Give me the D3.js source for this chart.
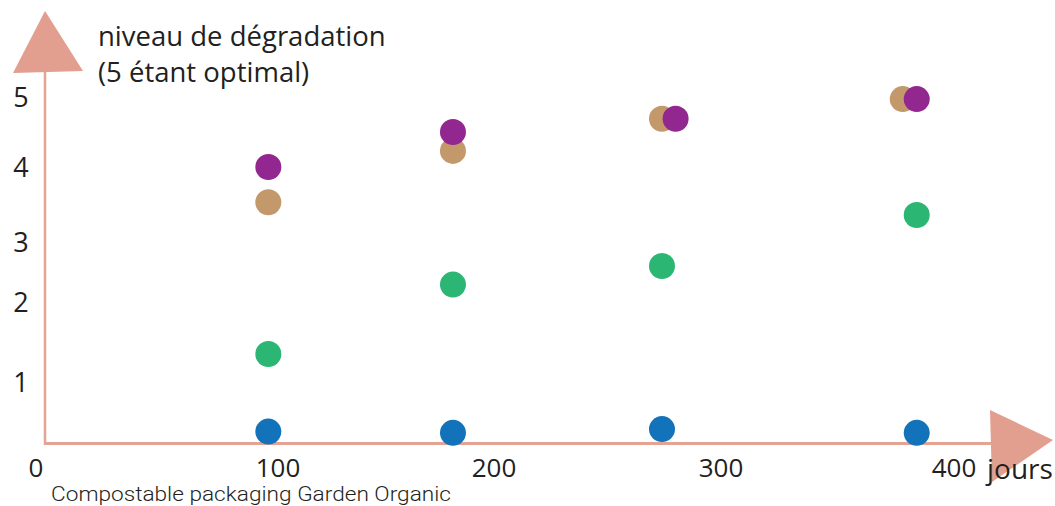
<!DOCTYPE html>
<html>
<head>
<meta charset="utf-8">
<script src="https://cdn.jsdelivr.net/npm/d3@7"></script>
<style>
  html, body { margin: 0; padding: 0; background: #fff; }
  svg { display: block; }
</style>
</head>
<body>
<svg id="chart" width="1055" height="506"></svg>
<script>
// ---- data ----
const xTicks = [0, 100, 200, 300, 400];
const yTicks = [1, 2, 3, 4, 5];
const seriesNames = ["bleu", "vert", "beige", "violet"];
const seriesColors = ["#1273bb", "#2bb673", "#c3996b", "#92278f"];
const daysBleu = [96, 181, 274, 384];
const valBleu = [0.2, 0.18, 0.24, 0.18];
const daysVert = [96, 181, 274, 384];
const valVert = [1.35, 2.29, 2.6, 3.36];
const daysBeige = [96, 181, 274, 378];
const valBeige = [3.53, 4.23, 4.69, 4.97];
const daysViolet = [96, 181, 280, 384];
const valViolet = [4.0, 4.5, 4.69, 4.97];
const yTitle = ["niveau de dégradation", "(5 étant optimal)"];
const xTitle = "jours";
const footer = "Compostable packaging Garden Organic";

const series = [
  {name: seriesNames[0], color: seriesColors[0], x: daysBleu, y: valBleu},
  {name: seriesNames[1], color: seriesColors[1], x: daysVert, y: valVert},
  {name: seriesNames[2], color: seriesColors[2], x: daysBeige, y: valBeige},
  {name: seriesNames[3], color: seriesColors[3], x: daysViolet, y: valViolet}
];

// ---- scales (hand-drawn axis: piecewise linear) ----
const x = d3.scaleLinear().domain([0, 100, 200, 300, 400]).range([36, 278, 494, 721, 954]);
const y = d3.scaleLinear().domain([0, 1, 2, 3, 4, 5]).range([444, 382, 302, 242, 167, 97]);

const svg = d3.select("#chart");
const axisColor = "#e4a393";
const arrowColor = "#e29e8e";
const textColor = "#231f20";
const font = "'Open Sans', sans-serif";

// axes lines
svg.append("line").attr("x1", 45).attr("x2", 45).attr("y1", 70).attr("y2", 445)
  .attr("stroke", axisColor).attr("stroke-width", 2.5);
svg.append("line").attr("x1", 44).attr("x2", 992).attr("y1", 443.5).attr("y2", 443.5)
  .attr("stroke", axisColor).attr("stroke-width", 3);

// arrowheads
svg.append("path").attr("d", "M45,11 L83,71 L13,73 Z").attr("fill", arrowColor);
svg.append("path").attr("d", "M990,410 L1053,440 L992,482 Z").attr("fill", arrowColor);

// dots
series.forEach(s => {
  svg.append("g").selectAll("circle")
    .data(s.x.map((d, i) => ({d: d, v: s.y[i]})))
    .join("circle")
    .attr("cx", p => x(p.d))
    .attr("cy", p => y(p.v))
    .attr("r", 13)
    .attr("fill", s.color);
});

// x tick labels
svg.append("g").selectAll("text").data(xTicks).join("text")
  .attr("x", d => x(d)).attr("y", 477)
  .attr("text-anchor", "middle")
  .attr("font-family", font).attr("font-size", 26).attr("fill", textColor)
  .text(d => d);

// y tick labels
svg.append("g").selectAll("text").data(yTicks).join("text")
  .attr("x", 21).attr("y", d => y(d) + 10)
  .attr("text-anchor", "middle")
  .attr("font-family", font).attr("font-size", 27).attr("fill", textColor)
  .text(d => d);

// titles
svg.append("g").selectAll("text").data(yTitle).join("text")
  .attr("x", 98).attr("y", (d, i) => 46 + i * 36)
  .attr("font-family", font).attr("font-size", 27.5).attr("fill", textColor)
  .text(d => d);

svg.append("text").attr("x", 987).attr("y", 479)
  .attr("font-family", font).attr("font-size", 28).attr("fill", textColor)
  .text(xTitle);

svg.append("text").attr("x", 51).attr("y", 501)
  .attr("font-family", "Roboto, sans-serif").attr("font-weight", 300)
  .attr("font-size", 21).attr("fill", textColor)
  .attr("textLength", 400).attr("lengthAdjust", "spacingAndGlyphs")
  .text(footer);
</script>
</body>
</html>
